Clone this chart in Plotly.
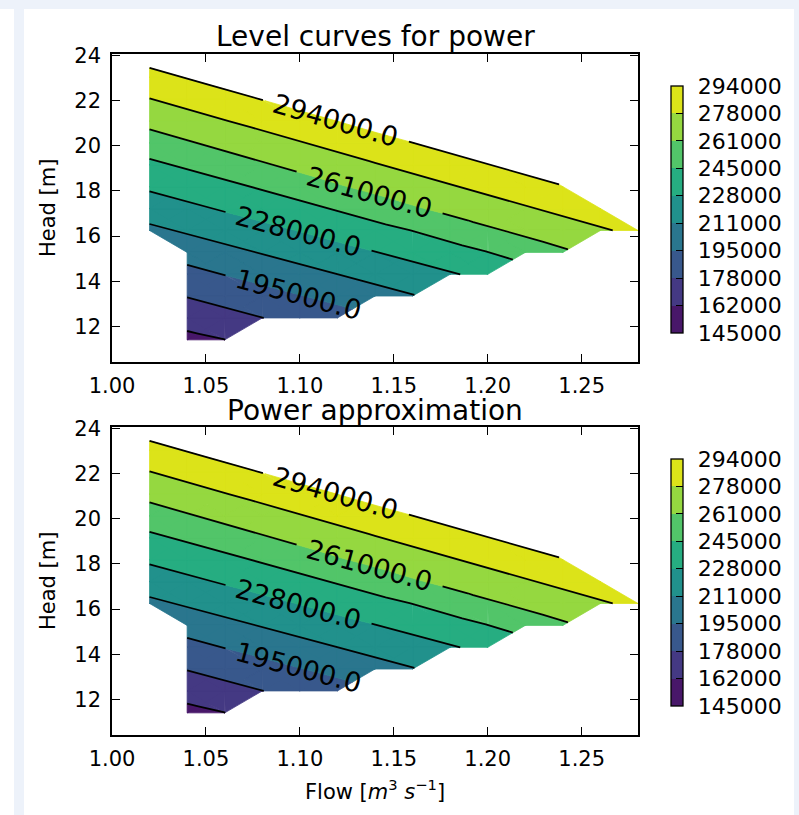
import math
from collections import defaultdict
import plotly.graph_objects as go

# ---------------- data ----------------
flow = [1.00, 1.02, 1.04, 1.06, 1.08, 1.10, 1.12, 1.14, 1.16, 1.18, 1.20, 1.22, 1.24, 1.26, 1.28]
head = [10.44, 11.41, 12.38, 13.35, 14.31, 15.28, 16.25, 17.22, 18.19, 19.16, 20.13, 21.09, 22.06, 23.03, 24.00]
levels = [145000, 162000, 178000, 195000, 211000, 228000, 245000, 261000, 278000, 294000]
labeled_levels = [195000, 228000, 261000, 294000]
x_ticks = [1.00, 1.05, 1.10, 1.15, 1.20, 1.25]
y_ticks = [12, 14, 16, 18, 20, 22, 24]

N = None
# rows follow `head` (bottom to top), columns follow `flow`
power_measured = [
    [N, N, N, N, N, N, N, N, N, N, N, N, N, N, N],
    [N, N, 157800, 161800, N, N, N, N, N, N, N, N, N, N, N],
    [N, N, 168200, 172700, 177800, 183000, 188200, N, N, N, N, N, N, N, N],
    [N, N, 178700, 183900, 189200, 194400, 199600, 205000, 210200, N, N, N, N, N, N],
    [N, N, 190100, 195400, 200500, 205700, 210900, 216200, 221400, 226500, 232100, N, N, N, N],
    [N, N, 201500, 206700, 211900, 217100, 222400, 227500, 233000, 238700, 244600, 251400, 258600, N, N],
    [N, 207600, 212900, 218100, 223400, 228600, 234000, 239600, 245300, 251900, 258800, 264900, 270600, 276200, 281700],
    [N, 219100, 224400, 229700, 234900, 240400, 246100, 252500, 259100, 265100, 270800, 276500, 282000, 287600, N],
    [N, 230500, 235800, 241100, 246700, 252900, 259400, 265300, 271100, 276700, 282400, 287900, 293400, N, N],
    [N, 241800, 247300, 253300, 259500, 265500, 271200, 277000, 282600, 288200, 293800, 299300, N, N, N],
    [N, 253600, 259700, 265600, 271500, 277300, 282800, 288500, 293900, 299700, 305200, 310700, N, N, N],
    [N, 265600, 271600, 277400, 283000, 288600, 294100, 299800, 305300, 311200, 316600, 322100, N, N, N],
    [N, 277600, 283300, 288800, 294400, 300000, 305500, 311200, 316700, 322600, 328000, 333600, N, N, N],
    [N, 289100, 294700, 300200, 305700, 311400, 316900, 322600, 328100, 334100, 339400, 345000, N, N, N],
    [N, 300500, 306100, 311600, 317000, 322800, 328400, 334000, 339500, 345600, 350800, 356400, N, N, N],
]
power_approx = [
    [N, N, N, N, N, N, N, N, N, N, N, N, N, N, N],
    [N, N, 157600, 161800, N, N, N, N, N, N, N, N, N, N, N],
    [N, N, 168000, 172700, 177800, 183000, 188200, N, N, N, N, N, N, N, N],
    [N, N, 178700, 183900, 189200, 194400, 199600, 205000, 210200, N, N, N, N, N, N],
    [N, N, 190100, 195400, 200500, 205700, 210900, 216200, 221400, 226500, 232100, N, N, N, N],
    [N, N, 201500, 206700, 211900, 217100, 222400, 227500, 233000, 238700, 244600, 251400, 258600, N, N],
    [N, 207600, 212900, 218100, 223400, 228600, 234000, 239600, 245300, 251900, 258800, 264900, 270600, 276200, 281700],
    [N, 219100, 224400, 229700, 234900, 240400, 246100, 252500, 259100, 265100, 270800, 276500, 282000, 287600, N],
    [N, 230500, 235800, 241100, 246700, 252900, 259400, 265300, 271100, 276700, 282400, 287900, 293400, N, N],
    [N, 241800, 247300, 253300, 259500, 265500, 271200, 277000, 282600, 288200, 293800, 299300, N, N, N],
    [N, 253600, 259700, 265600, 271500, 277300, 282800, 288500, 293900, 299700, 305200, 310700, N, N, N],
    [N, 265600, 271600, 277400, 283000, 288600, 294100, 299800, 305300, 311200, 316600, 322100, N, N, N],
    [N, 277600, 283300, 288800, 294400, 300000, 305500, 311200, 316700, 322600, 328000, 333600, N, N, N],
    [N, 289100, 294700, 300200, 305700, 311400, 316900, 322600, 328100, 334100, 339400, 345000, N, N, N],
    [N, 300500, 306100, 311600, 317000, 322800, 328400, 334000, 339500, 345600, 350800, 356400, N, N, N],
]

# ---------------- style / layout ----------------
W, H = 799, 815
FONT = "DejaVu Sans"
AX_L, AX_R = 112, 638
X_RANGE = [1.0, 1.28]
Y_RANGE = [10.43, 24.06]
band_colors = ['#481769', '#443983', '#38588c', '#2a768e', '#21918c',
               '#26ad81', '#52c569', '#95d840', '#dce319']
label_center_x = {294000: 1.1192, 261000: 1.1371, 228000: 1.0993, 195000: 1.0993}
GAP_PX = 73
CB_L, CB_W = 671, 12
CB_LABEL_PAD = "\u00a0\u200a"   # small lead-in so the labels sit clear of the bar
panels = [
    dict(top=54, bot=362, title="Level curves for power", title_y=37,
         z=power_measured, cb=(86, 333), xa='x', ya='y', show_xtitle=False),
    dict(top=427, bot=735, title="Power approximation", title_y=410,
         z=power_approx, cb=(459, 706), xa='x2', ya='y2', show_xtitle=True),
]


# ---------------- contouring helpers ----------------
def triangles(z):
    tris = []
    for i in range(len(head) - 1):
        for j in range(len(flow) - 1):
            corners = [(j, i), (j + 1, i), (j + 1, i + 1), (j, i + 1)]
            pts = [(flow[c], head[r], z[r][c]) for c, r in corners]
            valid = [p[2] is not None for p in pts]
            nv = sum(valid)
            if nv == 4:
                cen = (sum(p[0] for p in pts) / 4, sum(p[1] for p in pts) / 4,
                       sum(p[2] for p in pts) / 4)
                for k in range(4):
                    tris.append([pts[k], pts[(k + 1) % 4], cen])
            elif nv == 3:
                tris.append([p for p, v in zip(pts, valid) if v])
    return tris


def clip(poly, level, keep_above):
    out = []
    n = len(poly)
    for k in range(n):
        a, b = poly[k], poly[(k + 1) % n]
        ina = a[2] >= level if keep_above else a[2] <= level
        inb = b[2] >= level if keep_above else b[2] <= level
        if ina:
            out.append(a)
        if ina != inb:
            t = (level - a[2]) / (b[2] - a[2])
            out.append((a[0] + t * (b[0] - a[0]), a[1] + t * (b[1] - a[1]), level))
    return out


def level_segments(tris, L):
    segs = []
    for tri in tris:
        pts = []
        for k in range(3):
            a, b = tri[k], tri[(k + 1) % 3]
            if (a[2] >= L) != (b[2] >= L):
                if (a[0], a[1]) > (b[0], b[1]):
                    a, b = b, a
                t = (L - a[2]) / (b[2] - a[2])
                pts.append((round(a[0] + t * (b[0] - a[0]), 9), round(a[1] + t * (b[1] - a[1]), 9)))
        if len(pts) == 2 and pts[0] != pts[1]:
            segs.append((pts[0], pts[1]))
    return segs


def chain(segs):
    adj = defaultdict(list)
    for idx, (p, q) in enumerate(segs):
        adj[p].append(idx)
        adj[q].append(idx)
    used = [False] * len(segs)
    lines = []
    for idx in range(len(segs)):
        if used[idx]:
            continue
        used[idx] = True
        line = [segs[idx][0], segs[idx][1]]
        for front in (False, True):
            while True:
                end = line[0] if front else line[-1]
                nxt = [k for k in adj[end] if not used[k]]
                if not nxt:
                    break
                k = nxt[0]
                used[k] = True
                a, b = segs[k]
                np_ = b if a == end else a
                if front:
                    line.insert(0, np_)
                else:
                    line.append(np_)
        lines.append(line)
    return lines


def cut_gap(line, g0, g1):
    out, cur = [], []
    for a, b in zip(line[:-1], line[1:]):
        ts = [0.0, 1.0]
        for g in (g0, g1):
            if (a[0] - g) * (b[0] - g) < 0:
                ts.append((g - a[0]) / (b[0] - a[0]))
        ts.sort()
        for t0, t1 in zip(ts[:-1], ts[1:]):
            tm = 0.5 * (t0 + t1)
            xm = a[0] + tm * (b[0] - a[0])
            p0 = (a[0] + t0 * (b[0] - a[0]), a[1] + t0 * (b[1] - a[1]))
            p1 = (a[0] + t1 * (b[0] - a[0]), a[1] + t1 * (b[1] - a[1]))
            if g0 < xm < g1:
                if cur:
                    out.append(cur)
                    cur = []
            else:
                if not cur:
                    cur = [p0]
                cur.append(p1)
    if cur:
        out.append(cur)
    return out


def y_on(lines, cx):
    for line in lines:
        for a, b in zip(line[:-1], line[1:]):
            if a[0] != b[0] and (a[0] - cx) * (b[0] - cx) <= 0:
                t = (cx - a[0]) / (b[0] - a[0])
                return a[1] + t * (b[1] - a[1])
    return None


def to_px(x, y, pn):
    px = AX_L + (x - X_RANGE[0]) / (X_RANGE[1] - X_RANGE[0]) * (AX_R - AX_L)
    py = pn['top'] + (Y_RANGE[1] - y) / (Y_RANGE[1] - Y_RANGE[0]) * (pn['bot'] - pn['top'])
    return px, py


# ---------------- build figure ----------------
fig = go.Figure()
annots = []
gap_dx = GAP_PX / (AX_R - AX_L) * (X_RANGE[1] - X_RANGE[0])

cb_scale = []
for i, c in enumerate(band_colors):
    cb_scale += [[i / 9, c], [(i + 1) / 9, c]]

for pn in panels:
    tris = triangles(pn['z'])
    # filled bands
    for b in range(len(levels) - 1):
        lo, hi = levels[b], levels[b + 1]
        xs, ys = [], []
        for tri in tris:
            poly = clip(clip(tri, lo, True), hi, False)
            if len(poly) >= 3:
                xs += [p[0] for p in poly] + [poly[0][0], None]
                ys += [p[1] for p in poly] + [poly[0][1], None]
        if xs:
            fig.add_trace(go.Scatter(x=xs, y=ys, mode='lines', fill='toself',
                                     fillcolor=band_colors[b],
                                     line=dict(color=band_colors[b], width=0.8),
                                     xaxis=pn['xa'], yaxis=pn['ya'],
                                     hoverinfo='skip', showlegend=False))
    # contour lines + inline labels
    lx, ly = [], []
    for L in levels:
        lines = chain(level_segments(tris, L))
        if not lines:
            continue
        if L in labeled_levels:
            cx = label_center_x[L]
            cy = y_on(lines, cx)
            ya_ = y_on(lines, cx - 0.01)
            yb_ = y_on(lines, cx + 0.01)
            p1 = to_px(cx - 0.01, ya_, pn)
            p2 = to_px(cx + 0.01, yb_, pn)
            ang = math.degrees(math.atan2(p2[1] - p1[1], p2[0] - p1[0]))
            annots.append(dict(x=cx, y=cy, xref=pn['xa'], yref=pn['ya'],
                               text=f"{L:.1f}", showarrow=False, textangle=ang,
                               xanchor='center', yanchor='middle',
                               font=dict(family=FONT, size=27, color='black')))
            pieces = []
            for line in lines:
                pieces += cut_gap(line, cx - gap_dx, cx + gap_dx)
            lines = pieces
        for line in lines:
            lx += [p[0] for p in line] + [None]
            ly += [p[1] for p in line] + [None]
    fig.add_trace(go.Scatter(x=lx, y=ly, mode='lines', line=dict(color='black', width=1.8),
                             xaxis=pn['xa'], yaxis=pn['ya'], hoverinfo='skip', showlegend=False))
    # colorbar carrier
    cbt, cbb = pn['cb']
    fig.add_trace(go.Scatter(
        x=[None], y=[None], mode='markers', xaxis=pn['xa'], yaxis=pn['ya'],
        hoverinfo='skip', showlegend=False,
        marker=dict(color=[0], cmin=0, cmax=9, colorscale=cb_scale, showscale=True,
                    colorbar=dict(x=CB_L / W, xanchor='left', xpad=0, ypad=0,
                                  y=1 - (cbt + cbb) / 2 / H, yanchor='middle',
                                  len=(cbb - cbt) / H, lenmode='fraction',
                                  thickness=CB_W, thicknessmode='pixels',
                                  outlinewidth=1.3, outlinecolor='black',
                                  tickvals=list(range(len(levels))),
                                  ticktext=[CB_LABEL_PAD + str(v) for v in levels],
                                  ticks='inside', ticklen=7, tickwidth=1, tickcolor='black',
                                  tickfont=dict(family=FONT, size=22, color='black')))))
    # titles
    annots.append(dict(x=(AX_L + AX_R) / 2 / W, y=1 - pn['title_y'] / H, xref='paper', yref='paper',
                       text=pn['title'], showarrow=False, xanchor='center', yanchor='middle',
                       font=dict(family=FONT, size=28, color='black')))
    annots.append(dict(x=48 / W, y=1 - (pn['top'] + pn['bot']) / 2 / H, xref='paper', yref='paper',
                       text="Head [m]", showarrow=False, textangle=-90,
                       xanchor='center', yanchor='middle',
                       font=dict(family=FONT, size=21, color='black')))
    if pn['show_xtitle']:
        annots.append(dict(x=(AX_L + AX_R) / 2 / W, y=1 - 790 / H, xref='paper', yref='paper',
                           text="Flow [<i>m</i><sup>3</sup> <i>s</i><sup>\u22121</sup>]",
                           showarrow=False, xanchor='center', yanchor='middle',
                           font=dict(family=FONT, size=21, color='black')))

axis_common = dict(showline=True, linecolor='black', linewidth=1.5, mirror='ticks',
                   ticks='inside', ticklen=8, tickwidth=1, tickcolor='black',
                   showgrid=False, zeroline=False, automargin=False,
                   tickfont=dict(family=FONT, size=21, color='black'))

layout_axes = {}
for k, pn in enumerate(panels):
    sx = '' if k == 0 else str(k + 1)
    layout_axes['xaxis' + sx] = dict(domain=[AX_L / W, AX_R / W], range=X_RANGE,
                                     tickvals=x_ticks, ticktext=[f"{v:.2f}" for v in x_ticks],
                                     anchor='y' + sx, ticklabelstandoff=4, **axis_common)
    layout_axes['yaxis' + sx] = dict(domain=[1 - pn['bot'] / H, 1 - pn['top'] / H], range=Y_RANGE,
                                     tickvals=y_ticks, ticktext=[str(v) for v in y_ticks],
                                     anchor='x' + sx, ticklabelstandoff=5, **axis_common)

frame = '#edf2fa'
shapes = [
    dict(type='rect', xref='paper', yref='paper', x0=0, x1=1, y0=1 - 9 / H, y1=1,
         fillcolor=frame, line=dict(width=0), layer='below'),
    dict(type='rect', xref='paper', yref='paper', x0=14 / W, x1=24 / W, y0=0, y1=1,
         fillcolor=frame, line=dict(width=0), layer='below'),
    dict(type='rect', xref='paper', yref='paper', x0=794 / W, x1=1, y0=0, y1=1,
         fillcolor=frame, line=dict(width=0), layer='below'),
]

fig.update_layout(width=W, height=H,
                  margin=dict(l=0, r=0, t=0, b=0, pad=0, autoexpand=False),
                  paper_bgcolor='white', plot_bgcolor='white', showlegend=False,
                  annotations=annots, shapes=shapes, **layout_axes)
fig.write_html("out.html")
